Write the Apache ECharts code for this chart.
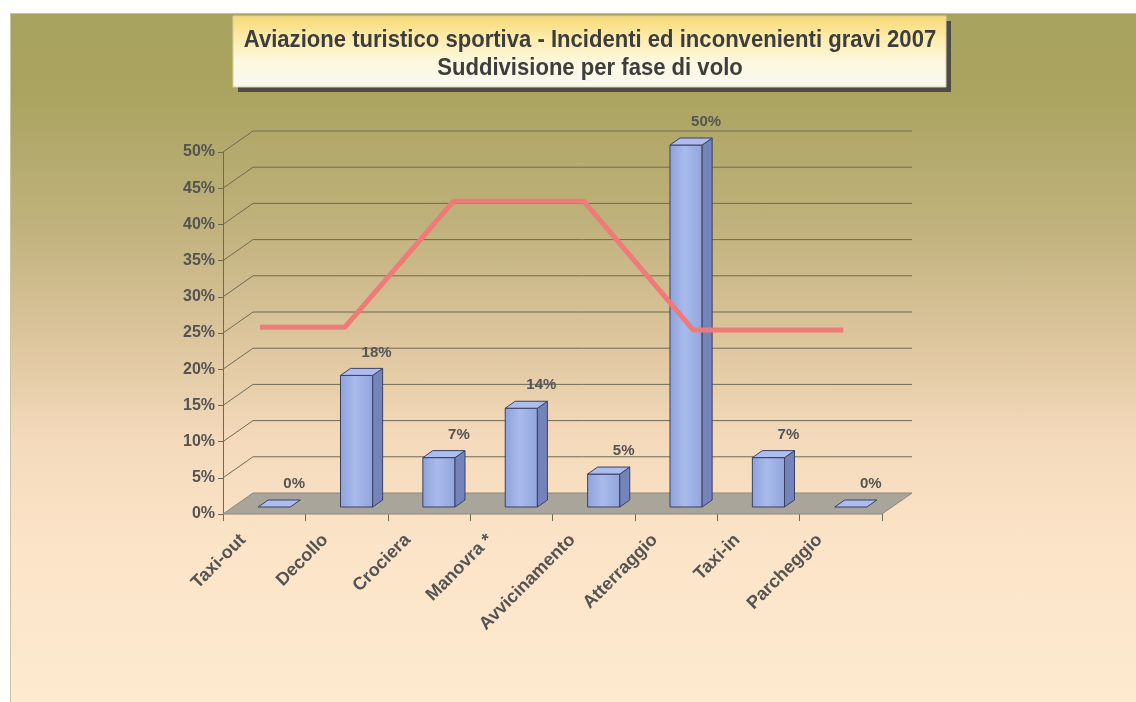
<!DOCTYPE html>
<html><head><meta charset="utf-8">
<script src="https://cdn.jsdelivr.net/npm/echarts@6/dist/echarts.min.js"></script>
<style>
html,body{margin:0;padding:0;background:#ffffff;width:1136px;height:702px;overflow:hidden}
#bg{position:absolute;left:10px;top:13px;width:1126px;height:689px;
background:linear-gradient(to bottom,#a8a25f 0%,#aaa460 12%,#bfb17b 30%,#dec69f 48%,#f4dabb 62%,#fce4c8 78%,#fdeacf 100%);
border-left:1px solid #c9c3a0;border-top:1px solid #c9c3a0;box-sizing:border-box}
#chart{position:absolute;left:0;top:0;width:1136px;height:702px}
</style></head><body><div id="bg"></div><div id="chart"></div>
<script>
const categories = ['Taxi-out','Decollo','Crociera','Manovra *','Avvicinamento','Atterraggio','Taxi-in','Parcheggio'];
const percentValues = [0, 18.18, 6.82, 13.64, 4.55, 50, 6.82, 0];
const lineX = [0.45, 1.48, 2.80, 4.38, 5.71, 7.53];
const lineY = [25.8, 25.8, 43.2, 43.2, 25.4, 25.4];
const yTicks = [0, 5, 10, 15, 20, 25, 30, 35, 40, 45, 50];
const titleLine1 = 'Aviazione turistico sportiva - Incidenti ed inconvenienti gravi 2007';
const titleLine2 = 'Suddivisione per fase di volo';

const DX = 30, DY = -21;   // depth offset of the 3D back wall
const nCat = categories.length;
const LABEL_FONT = '"Liberation Sans", Arial, sans-serif';
const TITLE_FONT = 'bold 24px "Liberation Sans", Arial, sans-serif';

const chart = echarts.init(document.getElementById('chart'), null, {renderer: 'canvas'});

function renderFloor(params, api) {
  const p = api.coord([0, 0]);
  const q = api.coord([nCat, 0]);
  return {
    type: 'polygon',
    shape: {points: [[p[0], p[1]], [q[0], q[1]], [q[0] + DX, q[1] + DY], [p[0] + DX, p[1] + DY]]},
    style: {fill: '#a9a59b', stroke: '#8b877c', lineWidth: 1}
  };
}

function renderGridLine(params, api) {
  const v = api.value(1);
  const p = api.coord([0, v]);
  const q = api.coord([nCat, v]);
  return {
    type: 'polyline',
    shape: {points: [[p[0], p[1]], [p[0] + DX, p[1] + DY], [q[0] + DX, q[1] + DY]]},
    style: {stroke: '#6f6a55', lineWidth: 1, fill: null}
  };
}

function renderBar(params, api) {
  const i = api.value(0), v = api.value(1);
  const top = api.coord([i, v]);
  const base = api.coord([i, 0]);
  const band = api.size([1, 0])[0];
  const bw = band * 0.39;
  const fx = DX / 3, fy = DY / 3;
  const x0 = top[0] - bw / 2 + fx, x1 = top[0] + bw / 2 + fx;
  const yt = top[1] + fy, yb = base[1] + fy;
  const dx = DX / 3, dy = DY / 3;
  const stroke = '#3a4160';
  const children = [];
  if (yb - yt > 0.5) {
    children.push({
      type: 'rect',
      shape: {x: x0, y: yt, width: x1 - x0, height: yb - yt},
      style: {
        fill: new echarts.graphic.LinearGradient(0, 0, 1, 0, [
          {offset: 0, color: '#8ea2da'}, {offset: 0.45, color: '#a9bbec'}, {offset: 1, color: '#91a5dc'}
        ]),
        stroke: stroke, lineWidth: 1
      }
    });
    children.push({
      type: 'polygon',
      shape: {points: [[x1, yt], [x1 + dx, yt + dy], [x1 + dx, yb + dy], [x1, yb]]},
      style: {fill: '#7484bb', stroke: stroke, lineWidth: 1}
    });
  }
  children.push({
    type: 'polygon',
    shape: {points: [[x0, yt], [x1, yt], [x1 + dx, yt + dy], [x0 + dx, yt + dy]]},
    style: {fill: '#aebdf0', stroke: stroke, lineWidth: 1}
  });
  children.push({
    type: 'text',
    style: {
      text: Math.round(v) + '%',
      x: top[0] + DX, y: top[1] + DY - 9,
      align: 'center', verticalAlign: 'middle',
      font: 'bold 15px ' + LABEL_FONT, fill: '#545454'
    }
  });
  return {type: 'group', children: children};
}

const option = {
  animation: false,
  backgroundColor: 'transparent',
  graphic: [
    {type: 'rect', shape: {x: 238, y: 21, width: 713, height: 71}, style: {fill: '#4d4b44'}, z: 1},
    {type: 'rect', shape: {x: 233, y: 16, width: 713, height: 71},
      style: {
        fill: new echarts.graphic.LinearGradient(0, 0, 0, 1, [
          {offset: 0, color: '#f9d873'}, {offset: 0.3, color: '#fcebaa'}, {offset: 0.65, color: '#fdf8df'}, {offset: 1, color: '#f6f9f0'}
        ]),
        stroke: '#d9cf9a', lineWidth: 1
      }, z: 2},
    {type: 'text', x: 590, y: 40, z: 3, scaleX: 0.92,
      style: {text: titleLine1, align: 'center', verticalAlign: 'middle', font: TITLE_FONT, fill: '#3d3d3d'}},
    {type: 'text', x: 590, y: 68, z: 3, scaleX: 0.92,
      style: {text: titleLine2, align: 'center', verticalAlign: 'middle', font: TITLE_FONT, fill: '#3d3d3d'}}
  ],
  grid: {left: 223, right: 254, top: 152, bottom: 188, containLabel: false},
  xAxis: [
    {
      type: 'category', data: categories, boundaryGap: true,
      axisLine: {show: false},
      axisTick: {show: true, length: 7, lineStyle: {color: '#6f6a55', width: 1}},
      axisLabel: {
        interval: 0, rotate: 45, margin: 2, padding: [0, 30, 0, 0],
        fontSize: 18, fontWeight: 'bold', fontFamily: LABEL_FONT, color: '#545454'
      },
      splitLine: {show: false}
    },
    {type: 'value', min: 0, max: nCat, show: false}
  ],
  yAxis: {
    type: 'value', min: 0, max: 50, interval: 5,
    axisLine: {show: true, lineStyle: {color: '#6f6a55', width: 1}},
    axisTick: {show: true, length: 5, lineStyle: {color: '#6f6a55'}},
    axisLabel: {formatter: '{value}%', margin: 8, fontSize: 16, fontWeight: 'bold', fontFamily: LABEL_FONT, color: '#535353'},
    splitLine: {show: false}
  },
  series: [
    {type: 'custom', name: 'floor', xAxisIndex: 1, z: 1, silent: true,
      data: [[0, 0]], renderItem: renderFloor},
    {type: 'custom', name: 'grid', xAxisIndex: 1, z: 1, silent: true,
      data: yTicks.filter(v => v > 0).map(v => [0, v]), renderItem: renderGridLine},
    {type: 'custom', name: 'Incidenti', xAxisIndex: 0, z: 3,
      data: percentValues.map((v, i) => [i, v]), encode: {x: 0, y: 1}, renderItem: renderBar},
    {type: 'line', name: 'trend', xAxisIndex: 1, z: 5, symbol: 'none', smooth: false,
      data: lineX.map((x, i) => [x, lineY[i]]),
      lineStyle: {color: '#ef7a77', width: 5}}
  ]
};
chart.setOption(option);
</script></body></html>
